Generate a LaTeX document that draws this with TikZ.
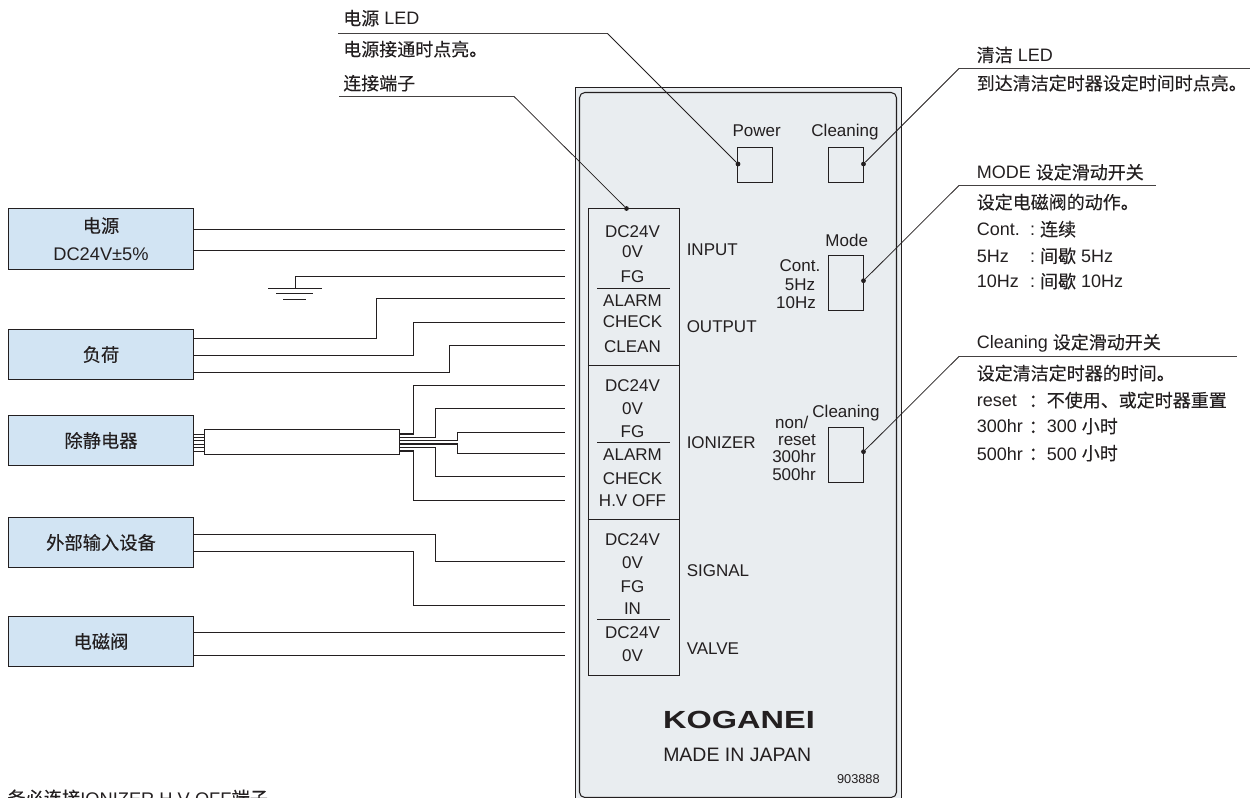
\documentclass[tikz,border=0pt]{standalone}
\usepackage{fontspec}
\setmainfont{Liberation Sans}
\newfontfamily\cjkf[FakeBold=0.2]{Noto Sans CJK SC}
\newcommand{\zh}[1]{{\cjkf #1}}
\definecolor{ink}{HTML}{231F20}
\definecolor{panelgrey}{HTML}{E9EDF0}
\definecolor{blockblue}{HTML}{D2E4F3}
\tikzset{
  txt/.style={inner sep=0pt,text height=9pt,text depth=0pt,text=ink,font=\fontsize{12.75}{15}\selectfont},
  ann/.style={txt,anchor=west,font=\fontsize{13.5}{16}\selectfont},
  lab/.style={txt,anchor=west},
  wire/.style={draw=ink,line width=1pt},
  leader/.style={draw=ink,line width=.55pt},
  annline/.style={draw=ink!85,line width=.9pt},
  thin box/.style={draw=ink,line width=.8pt,inner sep=0pt,fill=panelgrey},
  block/.style={draw=ink,line width=.9pt,fill=blockblue,inner sep=0pt,minimum width=138.75pt,text=ink,font=\fontsize{13.7}{21}\selectfont,align=center},
  dotmark/.style={circle,fill=ink,inner sep=0pt,minimum size=3.6pt},
}
\begin{document}
\begin{tikzpicture}[x=.75pt,y=-.75pt]
\clip (0,0) rectangle (1250,798);
% panel
\fill[panelgrey] (575.5,87.5) rectangle (901.5,800);
\draw[ink,line width=.8pt] (575.5,800) -- (575.5,87.5) -- (901.5,87.5) -- (901.5,800);
\draw[ink,line width=.8pt,fill=panelgrey,rounded corners=4pt] (579.5,92.5) rectangle (896.5,797.5);
% terminal block
\node[thin box,minimum width=68.25pt,minimum height=350.25pt] (tb) at (634,442) {};
\draw[ink,line width=.75pt] (tb.west |- 0,365.5) -- (tb.east |- 0,365.5);
\draw[ink,line width=.75pt] (tb.west |- 0,519.5) -- (tb.east |- 0,519.5);
\foreach \y in {288.5,442.5,619.5} \draw[ink,line width=.75pt] (597.3,\y) -- (670,\y);
\foreach \y/\t [count=\i] in {231.7/DC24V,252/0V,277/FG,300.7/ALARM,322/CHECK,346.7/CLEAN,385.7/DC24V,409/0V,431.7/FG,455/ALARM,478/CHECK,500.7/H.V OFF,540/DC24V,562.7/0V,586.7/FG,608/IN,632.7/DC24V,655/0V}
  \node[txt] (term\i) at (632.5,\y) {\t};
\foreach \y/\t in {250/INPUT,327/OUTPUT,442.7/IONIZER,570.7/SIGNAL,648.7/VALVE}
  \node[lab] (lab\t) at (686.5,\y) {\t};
% panel controls
\node[thin box,minimum width=26.25pt,minimum height=26.25pt] (powerled) at (755,165) {};
\node[thin box,minimum width=26.25pt,minimum height=26.25pt] (cleanled) at (846,165) {};
\node[thin box,minimum width=26.25pt,minimum height=41.25pt] (modesw) at (846,283) {};
\node[thin box,minimum width=26.25pt,minimum height=41.25pt] (cleansw) at (846,455) {};
\node[txt] (powertxt) at (756.7,131) {Power};
\node[txt] (cleantxt) at (845,131) {Cleaning};
\node[txt] (modetxt) at (846.7,241) {Mode};
\node[txt] (conttxt) at (800,266) {Cont.};
\node[txt] (fivetxt) at (800,284.7) {5Hz};
\node[txt] (tentxt) at (796,302.7) {10Hz};
\node[txt] (clean2txt) at (846,411.7) {Cleaning};
\node[txt] (nontxt) at (791.7,423) {non/};
\node[txt] (resettxt) at (797,439.7) {reset};
\node[txt] (h3txt) at (794,457) {300hr};
\node[txt] (h5txt) at (794,475) {500hr};
\node[txt,font=\bfseries\fontsize{18.6}{20}\selectfont,text height=13.4pt] (logo) at (739,720) {\scalebox{1.31}[1]{KOGANEI}};
\node[txt,anchor=west,font=\fontsize{14.6}{17}\selectfont] (made) at (663,755) {MADE IN JAPAN};
\node[txt,anchor=east,font=\fontsize{9.6}{11}\selectfont,text height=7pt] (part) at (880,779) {903888};
% blocks
\node[block,minimum height=45.75pt] (bpower) at (101,239) {\zh{电源}\\DC24V±5\%};
\node[block,minimum height=37.5pt] (bload) at (101,354.5) {\zh{负荷}};
\node[block,minimum height=37.5pt] (bion) at (101,440.5) {\zh{除静电器}};
\node[block,minimum height=37.5pt] (bext) at (101,542.5) {\zh{外部输入设备}};
\node[block,minimum height=37.5pt] (bval) at (101,641.5) {\zh{电磁阀}};
% terminal wire ends
\foreach \n/\y in {a/229.5,b/250.5,c/276.5,d/298.5,e/322.5,f/345.5,g/385.5,h/408.5,i/432.5,j/453.5,k/476.5,l/500.5,m/561.5,n/605.5,o/632.5,p/655.5}
  \coordinate (w\n) at (565,\y);
% input
\draw[wire] (bpower.east |- wa) -- (wa);
\draw[wire] (bpower.east |- wb) -- (wb);
% ground
\coordinate (gnd) at (295.5,288.5);
\draw[wire] (wc) -- (gnd |- wc) -- (gnd);
\draw[wire] (268,288.5) -- (322,288.5);
\draw[wire] (276,293.5) -- (313,293.5);
\draw[wire] (283,299.5) -- (306,299.5);
% output
\draw[wire] (bload.east |- 0,338.5) -- (376.5,338.5) -- (376.5,298.5) -- (wd);
\draw[wire] (bload.east |- 0,355.5) -- (413.5,355.5) -- (413.5,322.5) -- (we);
\draw[wire] (bload.east |- 0,372.5) -- (449.5,372.5) -- (449.5,345.5) -- (wf);
% ioniser cable
\node[draw=ink,line width=.9pt,fill=white,inner sep=0pt,minimum width=146.25pt,minimum height=18.75pt] (cable) at (302,441.9) {};
\foreach \y in {434,437.3,440.5,444,447.5,451}
  \draw[ink,line width=.7pt] (bion.east |- 0,\y) -- (cable.west |- 0,\y);
\draw[wire,line width=.8pt] (cable.east |- 0,434) -- (413.5,434) -- (413.5,385.5) -- (wg);
\draw[wire,line width=.8pt] (cable.east |- 0,437.3) -- (435.5,437.3) -- (435.5,408.5) -- (wh);
\draw[wire,line width=.8pt] (cable.east |- 0,440.5) -- (457.5,440.5) -- (457.5,432.5) -- (wi);
\draw[wire,line width=.8pt] (cable.east |- 0,444) -- (457.5,444) -- (457.5,453.5) -- (wj);
\draw[wire,line width=.8pt] (cable.east |- 0,447.5) -- (435.5,447.5) -- (435.5,476.5) -- (wk);
\draw[wire,line width=.8pt] (cable.east |- 0,451) -- (413.5,451) -- (413.5,500.5) -- (wl);
% signal / valve
\draw[wire] (bext.east |- 0,534.5) -- (435.5,534.5) -- (435.5,561.5) -- (wm);
\draw[wire] (bext.east |- 0,551.5) -- (413.5,551.5) -- (413.5,605.5) -- (wn);
\draw[wire] (bval.east |- wo) -- (wo);
\draw[wire] (bval.east |- wp) -- (wp);
% leader dots
\node[dotmark] (dterm) at (626.5,208.5) {};
\node[dotmark] (dpower) at (738,164) {};
\node[dotmark] (dclean) at (863.5,164) {};
\node[dotmark] (dmode) at (863.5,280.7) {};
\node[dotmark] (dcsw) at (863.5,451.7) {};
% annotations left
\node[ann] (a1) at (343,19) {\zh{电源} LED};
\node[ann] (a2) at (343,50) {\zh{电源接通时点亮。}};
\node[ann] (a3) at (343,84) {\zh{连接端子}};
\coordinate (l1a) at (338,33.5); \coordinate (l1b) at (607.5,33.5);
\coordinate (l2a) at (339,96.5); \coordinate (l2b) at (514,96.5);
\draw[annline] (l1a) -- (l1b);
\draw[leader] (l1b) -- (dpower);
\draw[annline] (l2a) -- (l2b);
\draw[leader] (l2b) -- (dterm);
% annotations right
\node[ann] (b1) at (976.5,55.7) {\zh{清洁} LED};
\node[ann] (b2) at (976.5,84) {\zh{到达清洁定时器设定时间时点亮。}};
\node[ann] (b3) at (976.5,173) {MODE \zh{设定滑动开关}};
\node[ann] (b4) at (976.5,203) {\zh{设定电磁阀的动作。}};
\node[ann] (b5) at (976.5,230) {\makebox[40pt][l]{Cont.}:~\zh{连续}};
\node[ann] (b6) at (976.5,256.7) {\makebox[40pt][l]{5Hz}:~\zh{间歇} 5Hz};
\node[ann] (b7) at (976.5,282) {\makebox[40pt][l]{10Hz}:~\zh{间歇} 10Hz};
\node[ann] (b8) at (976.5,343) {Cleaning \zh{设定滑动开关}};
\node[ann] (b9) at (976.5,374) {\zh{设定清洁定时器的时间。}};
\node[ann] (b10) at (976.5,401) {\makebox[39pt][l]{reset}\zh{：不使用、或定时器重置}};
\node[ann] (b11) at (976.5,427) {\makebox[39pt][l]{300hr}\zh{：}300 \zh{小时}};
\node[ann] (b12) at (976.5,454) {\makebox[39pt][l]{500hr}\zh{：}500 \zh{小时}};
\coordinate (r1a) at (959,68.5); \coordinate (r1b) at (1250,68.5);
\coordinate (r2a) at (959,185.5); \coordinate (r2b) at (1156,185.5);
\coordinate (r3a) at (959,356.5); \coordinate (r3b) at (1236.7,356.5);
\draw[annline] (r1a) -- (r1b); \draw[leader] (r1a) -- (dclean);
\draw[annline] (r2a) -- (r2b); \draw[leader] (r2a) -- (dmode);
\draw[annline] (r3a) -- (r3b); \draw[leader] (r3a) -- (dcsw);
% footnote, cut by the picture's lower edge as in the reference
\node[ann,font=\fontsize{13.7}{16}\selectfont] (foot) at (7,799) {\zh{务必连接}IONIZER H.V OFF\zh{端子}};
\end{tikzpicture}
\end{document}
